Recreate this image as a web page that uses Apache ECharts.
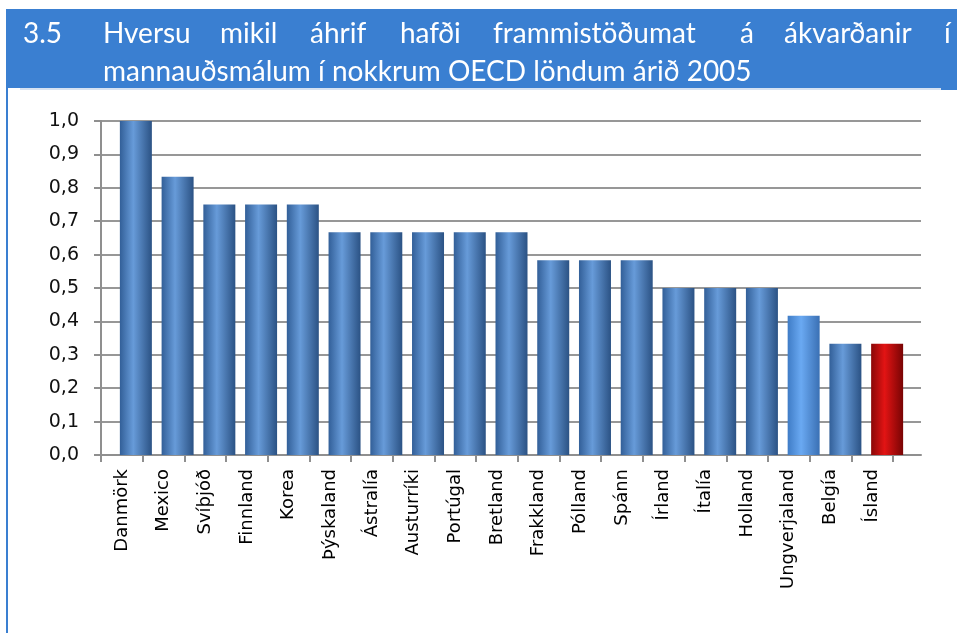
<!DOCTYPE html>
<html>
<head>
<meta charset="utf-8">
<script src="https://cdn.jsdelivr.net/npm/echarts@6/dist/echarts.min.js"></script>
<style>
  html, body { margin: 0; padding: 0; background: #fff; }
  #main { width: 957px; height: 633px; }
</style>
</head>
<body>
<div id="main"></div>
<script>
// data
const countries = ['Danmörk', 'Mexico', 'Svíþjóð', 'Finnland', 'Korea', 'Þýskaland', 'Ástralía',
  'Austurríki', 'Portúgal', 'Bretland', 'Frakkland', 'Pólland', 'Spánn', 'Írland', 'Ítalía',
  'Holland', 'Ungverjaland', 'Belgía', 'Ísland']
const scores = [1.0, 0.833, 0.75, 0.75, 0.75, 0.667, 0.667, 0.667, 0.667, 0.667, 0.583, 0.583,
  0.583, 0.5, 0.5, 0.5, 0.417, 0.333, 0.333]
const titleLine1 = ['3.5', 'Hversu', 'mikil', 'áhrif', 'hafði', 'frammistöðumat', 'á', 'ákvarðanir', 'í']
const titleLine2 = 'mannauðsmálum í nokkrum OECD löndum árið 2005'

const TITLE_FONT = '28px Lato, "Open Sans", sans-serif'
const AXIS_FONT = '"DejaVu Sans", Verdana, sans-serif'
const blue = '#3a7fd1'

function grad(a, b, c) {
  return new echarts.graphic.LinearGradient(0, 0, 1, 0, [
    { offset: 0, color: a }, { offset: 0.42, color: b }, { offset: 1, color: c }
  ])
}
const barFill = {
  'Ungverjaland': grad('#3f7cc6', '#6aa9f2', '#3a70b4'),
  'Ísland': grad('#8a0707', '#e21414', '#780404')
}
const defaultFill = grad('#325f98', '#679bd9', '#2b5284')

// left edge of each word on the justified first title line
const wordX = [23, 103, 220, 310, 400, 493, 740, 784, 944]

const chart = echarts.init(document.getElementById('main'))

const graphics = [
  { type: 'rect', shape: { x: 6, y: 9, width: 951, height: 79 }, style: { fill: blue }, silent: true },
  { type: 'rect', shape: { x: 941, y: 86, width: 16, height: 4 }, style: { fill: blue }, silent: true },
  { type: 'rect', shape: { x: 6, y: 88, width: 2, height: 545 }, style: { fill: blue }, silent: true },
  { type: 'rect', shape: { x: 20, y: 88, width: 921, height: 2 }, style: { fill: '#d6e2f2' }, silent: true },
  {
    type: 'text', silent: true,
    style: { x: 103, y: 71.5, text: titleLine2, fill: '#fff', font: TITLE_FONT, verticalAlign: 'middle' }
  }
]
titleLine1.forEach((w, i) => {
  graphics.push({
    type: 'text', silent: true,
    style: { x: wordX[i], y: 33.5, text: w, fill: '#fff', font: TITLE_FONT, verticalAlign: 'middle' }
  })
})

chart.setOption({
  animation: false,
  graphic: graphics,
  grid: [
    { left: 101, right: 36, top: 121, bottom: 178 },
    { left: 101, width: 792, top: 121, bottom: 178 },
    { left: 115, width: 793, top: 121, bottom: 178 }
  ],
  xAxis: [
    {
      gridIndex: 0, type: 'value', min: 0, max: 1,
      axisLine: { show: true, lineStyle: { color: '#8f8f8f', width: 2 } },
      axisTick: { show: false }, axisLabel: { show: false }, splitLine: { show: false }
    },
    {
      gridIndex: 1, type: 'category', data: countries,
      axisLine: { show: false },
      axisTick: { show: true, length: 7, lineStyle: { color: '#8f8f8f', width: 2 } },
      axisLabel: { interval: 0, rotate: 90, margin: 14, color: '#000', fontSize: 18, fontFamily: AXIS_FONT }
    },
    { gridIndex: 2, type: 'category', data: countries, show: false }
  ],
  yAxis: [
    {
      gridIndex: 0, type: 'value', min: 0, max: 1, interval: 0.1,
      axisLine: { show: true, lineStyle: { color: '#8f8f8f', width: 2 } },
      axisTick: { show: true, length: 7, lineStyle: { color: '#8f8f8f', width: 2 } },
      axisLabel: {
        margin: 22, color: '#111', fontSize: 19, fontFamily: AXIS_FONT, padding: [6, 0, 0, 0],
        formatter: v => v.toFixed(1).replace('.', ',')
      },
      splitLine: { show: true, lineStyle: { color: '#979797', width: 2 } }
    },
    { gridIndex: 1, type: 'value', min: 0, max: 1, show: false },
    { gridIndex: 2, type: 'value', min: 0, max: 1, show: false }
  ],
  series: [{
    type: 'bar',
    xAxisIndex: 2, yAxisIndex: 2,
    barWidth: 32,
    data: scores.map((v, i) => ({
      value: v,
      itemStyle: { color: barFill[countries[i]] || defaultFill }
    }))
  }]
})
</script>
</body>
</html>
